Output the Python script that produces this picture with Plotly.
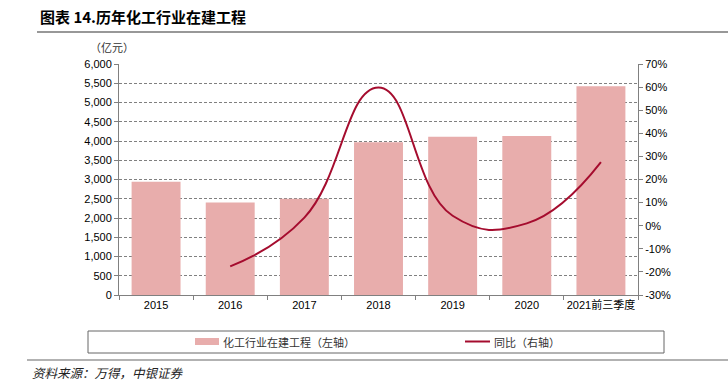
import plotly.graph_objects as go

categories = ["2015", "2016", "2017", "2018", "2019", "2020", "2021前三季度"]
construction = [2940, 2405, 2500, 3970, 4110, 4130, 5425]   # 亿元
yoy_pct = [None, -17.6, 3.5, 59.8, 4.3, 1.0, 27.5]          # %
left_ticks = list(range(0, 6001, 500))
right_ticks = list(range(-30, 71, 10))
right_tick_text = [f"{v}%" for v in right_ticks]

W, H = 728, 381
L, R, T, B = 119, 638, 64, 295

def px(x):
    return (x - L) / (R - L)

def py(y):
    return (B - y) / (B - T)

bar_color = "#E8ADAC"
line_color = "#A50C2E"
cjk = "Noto Sans CJK SC"
num = "Liberation Sans"

fig = go.Figure()
fig.add_trace(go.Bar(
    x=categories, y=construction, name="化工行业在建工程（左轴）",
    marker=dict(color=bar_color, line=dict(width=0)), yaxis="y", showlegend=False,
))
fig.add_trace(go.Scatter(
    x=categories, y=yoy_pct, name="同比（右轴）", mode="lines",
    line=dict(color=line_color, width=2, shape="spline", smoothing=1.3),
    yaxis="y2", showlegend=False, connectgaps=False,
))

fig.update_layout(
    width=W, height=H,
    margin=dict(l=L, r=W - R, t=T, b=H - B, pad=0, autoexpand=False),
    paper_bgcolor="white", plot_bgcolor="white",
    bargap=0.34,
    font=dict(family=num, size=11, color="#000000"),
    xaxis=dict(
        type="category", tickson="boundaries", ticks="outside", ticklen=4,
        tickcolor="#808080", showline=True, linecolor="#808080", linewidth=1,
        showgrid=False, tickangle=0, automargin=False,
        tickfont=dict(family=num + ", " + cjk, size=11),
    ),
    yaxis=dict(
        range=[0, 6000], tickvals=left_ticks, tickformat=",d",
        ticks="outside", ticklen=4, tickcolor="#808080",
        showline=True, linecolor="#808080", linewidth=1,
        showgrid=True, gridcolor="#808080", griddash="3px,2px", gridwidth=1,
        zeroline=False, automargin=False, tickfont=dict(family=num, size=11),
    ),
    yaxis2=dict(
        range=[-30, 70], tickvals=right_ticks, ticktext=right_tick_text,
        overlaying="y", side="right",
        ticks="outside", ticklen=4, tickcolor="#808080",
        showline=True, linecolor="#808080", linewidth=1,
        showgrid=False, zeroline=False, automargin=False,
        tickfont=dict(family=num, size=11),
    ),
)

shapes = [
    # title rule
    dict(type="line", xref="paper", yref="paper", x0=px(37), x1=px(728), y0=py(32), y1=py(32),
         line=dict(color="#333333", width=1.2)),
    # legend box
    dict(type="rect", xref="paper", yref="paper", x0=px(88), x1=px(664), y0=py(331), y1=py(353),
         line=dict(color="#666666", width=1), fillcolor="rgba(0,0,0,0)"),
    # legend swatches
    dict(type="rect", xref="paper", yref="paper", x0=px(195), x1=px(219), y0=py(338), y1=py(345),
         line=dict(width=0), fillcolor=bar_color),
    dict(type="line", xref="paper", yref="paper", x0=px(465), x1=px(490), y0=py(341.5), y1=py(341.5),
         line=dict(color=line_color, width=2)),
    # source rule
    dict(type="line", xref="paper", yref="paper", x0=px(27), x1=px(728), y0=py(360), y1=py(360),
         line=dict(color="#666666", width=1.2)),
]
fig.update_layout(shapes=shapes)

annotations = [
    dict(text="<b>图表 14.历年化工行业在建工程</b>", x=px(38), y=py(17), xanchor="left", yanchor="middle",
         font=dict(family=cjk, size=15, color="#000000")),
    dict(text="（亿元）", x=px(88), y=py(47), xanchor="left", yanchor="middle",
         font=dict(family=cjk, size=11, color="#333333")),
    dict(text="化工行业在建工程（左轴）", x=px(221), y=py(341.5), xanchor="left", yanchor="middle",
         font=dict(family=cjk, size=11, color="#333333")),
    dict(text="同比（右轴）", x=px(492), y=py(341.5), xanchor="left", yanchor="middle",
         font=dict(family=cjk, size=11, color="#333333")),
    dict(text="<i>资料来源：万得，中银证券</i>", x=px(30), y=py(372), xanchor="left", yanchor="middle",
         font=dict(family=cjk, size=12.5, color="#222222")),
]
for a in annotations:
    a.update(xref="paper", yref="paper", showarrow=False)
fig.update_layout(annotations=annotations)

fig.write_html(
    "out.html",
    config={"displayModeBar": False},
    post_script="document.body.style.margin='0';document.body.style.padding='0';document.body.style.overflow='hidden';",
)
